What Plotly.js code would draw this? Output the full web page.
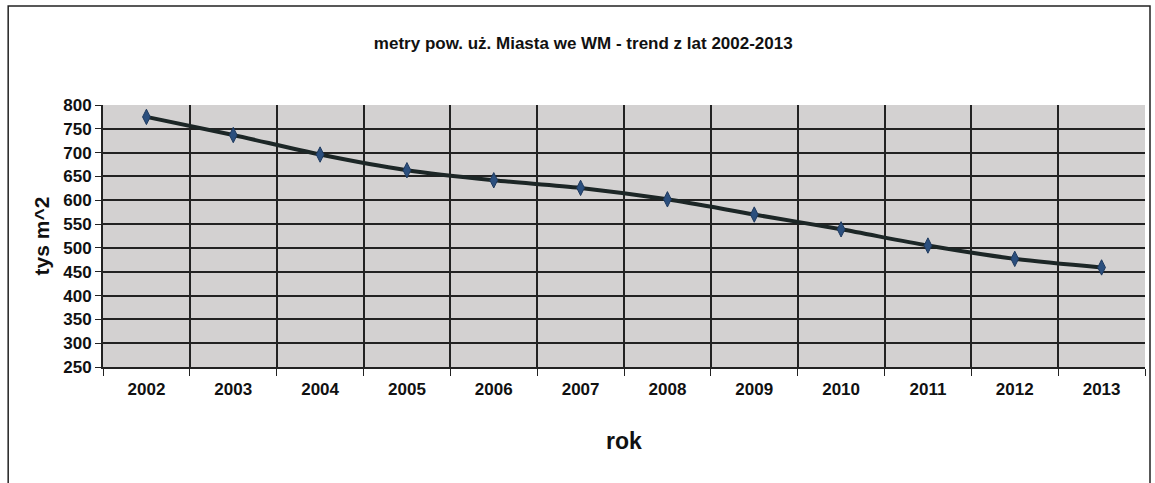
<!DOCTYPE html>
<html>
<head>
<meta charset="utf-8">
<script src="https://cdn.plot.ly/plotly-3.0.1.min.js"></script>
<style>html,body{margin:0;padding:0;background:#fff;}#chart{width:1155px;height:483px;}</style>
</head>
<body>
<div id="chart"></div>
<script>
const years = ['2002','2003','2004','2005','2006','2007','2008','2009','2010','2011','2012','2013'];
const values = [775, 737, 696, 663, 642, 626, 602, 570, 539, 505, 477, 459];
const yTicks = [250,300,350,400,450,500,550,600,650,700,750,800];

const font = '"Liberation Sans", Arial, sans-serif';

const trace = {
  x: years, y: values, type: 'scatter', mode: 'lines+markers',
  line: {color: '#1c2626', width: 4, shape: 'spline', smoothing: 0.8},
  marker: {symbol: 'diamond-tall', size: 11, color: '#2b4f7e', line: {color: '#1f3a5f', width: 1}},
  showlegend: false, hoverinfo: 'x+y'
};

const layout = {
  width: 1155, height: 483,
  margin: {l: 103, r: 10, t: 105, b: 116},
  paper_bgcolor: '#ffffff', plot_bgcolor: '#d3d1d1',
  title: {text: 'metry pow. uż. Miasta we WM - trend z lat 2002-2013', x: 0.505, xanchor: 'center', y: 0.91, yanchor: 'middle',
          font: {family: font, size: 17, color: '#111', weight: 'bold'}},
  xaxis: {type: 'category', tickson: 'boundaries', showgrid: true, gridcolor: '#222', gridwidth: 2,
          ticks: 'outside', ticklen: 7, tickcolor: '#222', showline: true, linecolor: '#222', linewidth: 2,
          ticklabelstandoff: 6,
          tickfont: {family: font, size: 17, color: '#111', weight: 'bold'},
          title: {text: 'rok', font: {family: font, size: 23, color: '#111', weight: 'bold'}, standoff: 34},
          range: [-0.5, 11.5], fixedrange: true},
  yaxis: {range: [250, 800], tickvals: yTicks, ticktext: yTicks.map(String), showgrid: true, gridcolor: '#222', gridwidth: 2,
          ticks: 'outside', ticklen: 6, tickcolor: '#222', showline: true, linecolor: '#222', linewidth: 2,
          tickfont: {family: font, size: 17, color: '#111', weight: 'bold'},
          title: {text: 'tys m^2', font: {family: font, size: 21, color: '#111', weight: 'bold'}, standoff: 8},
          zeroline: false, fixedrange: true},
  shapes: [
    {type: 'rect', xref: 'paper', yref: 'paper', x0: -0.091, x1: 1.0048, y0: -0.6, y1: 1.378,
     line: {color: '#222', width: 1.5}, fillcolor: 'rgba(0,0,0,0)', layer: 'below'}
  ]
};

Plotly.newPlot('chart', [trace], layout, {displayModeBar: false, staticPlot: true});
</script>
</body>
</html>
